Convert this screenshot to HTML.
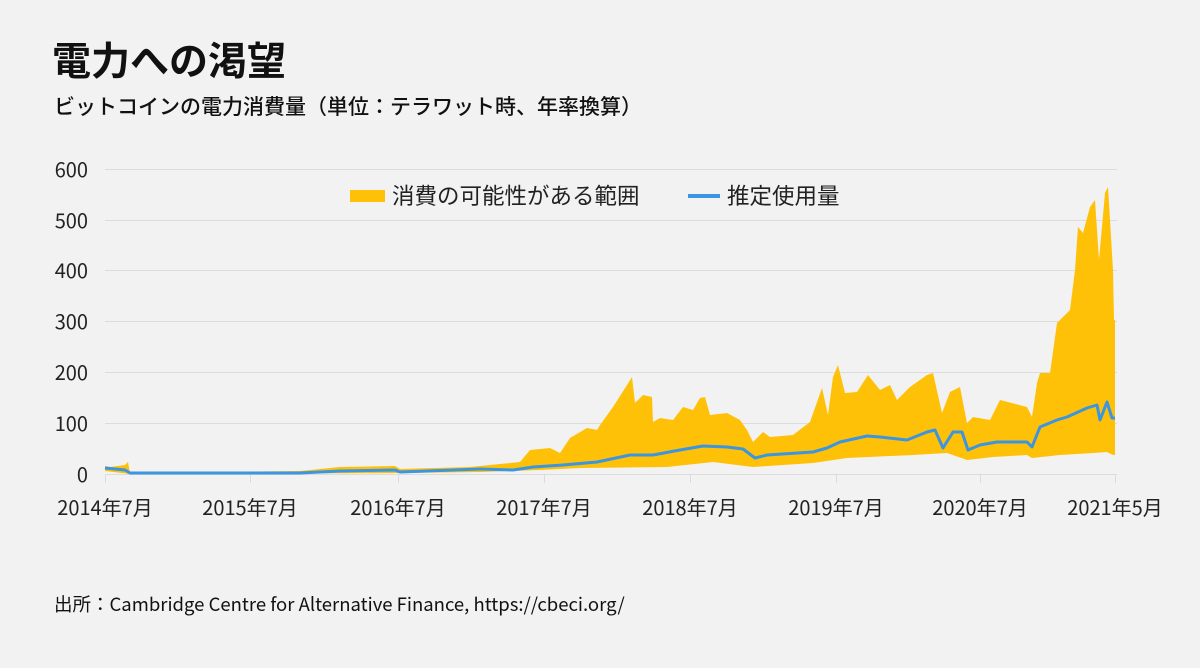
<!DOCTYPE html>
<html><head><meta charset="utf-8"><style>
body{margin:0;width:1200px;height:668px;background:#f2f2f2;font-family:"Noto Sans CJK JP","Liberation Sans",sans-serif;color:#111;overflow:hidden}
.t{position:absolute;left:52px;top:34px;font-size:39px;font-weight:bold;line-height:50px}
.s{position:absolute;left:54px;top:91px;font-size:21px;font-weight:500;line-height:30px}
.src{position:absolute;left:54px;top:591px;font-size:18.5px;line-height:26px}
svg{position:absolute;left:0;top:0}
</style></head><body>
<div class="t">電力への渇望</div>
<div class="s">ビットコインの電力消費量（単位：テラワット時、年率換算）</div>
<div class="src">出所：Cambridge Centre for Alternative Finance, https://cbeci.org/</div>
<svg width="1200" height="668" font-family="Noto Sans CJK JP, Liberation Sans, sans-serif" font-size="20" fill="#222">
<g stroke="#dcdcdc" stroke-width="1">
<line x1="105" x2="1117" y1="169.5" y2="169.5"/><line x1="105" x2="1117" y1="220.5" y2="220.5"/>
<line x1="105" x2="1117" y1="270.5" y2="270.5"/><line x1="105" x2="1117" y1="321.5" y2="321.5"/>
<line x1="105" x2="1117" y1="372.5" y2="372.5"/><line x1="105" x2="1117" y1="423.5" y2="423.5"/>
<line x1="105" x2="1117" y1="474.5" y2="474.5"/>
<line x1="105.5" x2="105.5" y1="474" y2="483"/><line x1="250.5" x2="250.5" y1="474" y2="483"/>
<line x1="398.5" x2="398.5" y1="474" y2="483"/><line x1="544.5" x2="544.5" y1="474" y2="483"/>
<line x1="690.5" x2="690.5" y1="474" y2="483"/><line x1="836.5" x2="836.5" y1="474" y2="483"/>
<line x1="980.5" x2="980.5" y1="474" y2="483"/><line x1="1115.5" x2="1115.5" y1="474" y2="483"/>
</g>
<g text-anchor="end">
<text x="88" y="177">600</text><text x="88" y="228">500</text><text x="88" y="278">400</text>
<text x="88" y="329">300</text><text x="88" y="380">200</text><text x="88" y="431">100</text><text x="88" y="482">0</text>
</g>
<g text-anchor="middle">
<text x="105" y="515">2014年7月</text><text x="250" y="515">2015年7月</text><text x="398" y="515">2016年7月</text>
<text x="544" y="515">2017年7月</text><text x="690" y="515">2018年7月</text><text x="836" y="515">2019年7月</text>
<text x="980" y="515">2020年7月</text><text x="1115" y="515">2021年5月</text>
</g>
<polygon fill="#ffc107" points="105,466 110,467 125,465 128,462 130,473 300,471 340,467 395,466 400,469 470,467 500,464 520,462 530,450 550,448 560,453 570,438 587,428 597,430 600,425 613,407 627,385 632,377 635,403 643,395 652,397 653,422 660,418 673,420 683,407 693,410 700,398 705,397 710,415 727,413 740,420 747,430 753,442 763,432 770,437 793,435 810,422 822,388 828,415 833,377 838,365 845,393 857,392 868,375 880,390 890,385 897,400 910,387 927,375 933,373 942,413 950,392 960,387 967,423 973,417 990,420 1000,400 1027,407 1032,417 1037,383 1040,373 1050,373 1057,323 1070,310 1075,270 1078,227 1083,233 1090,207 1095,200 1099,260 1105,193 1108,187 1113,270 1114,320 1115,320 1115,455 1113,455 1107,452 1093,453 1060,455 1032,458 1027,455 993,457 967,460 947,453 913,455 847,458 813,463 753,467 713,462 667,467 580,468 540,470 480,472 400,473 130,474 105,471"/>
<polyline fill="none" stroke="#3b95e0" stroke-width="3" stroke-linejoin="round" points="105,468 125,470 130,473 300,473 340,471 395,470 400,472 480,469 513,470 533,467 563,465 597,462 630,455 653,455 680,450 703,446 727,447 743,449 755,458 767,455 813,452 827,448 840,442 867,436 880,437 907,440 927,432 935,430 943,448 953,432 962,432 968,450 980,445 997,442 1027,442 1032,447 1040,427 1057,420 1067,417 1087,408 1097,405 1100,420 1107,402 1112,418 1115,418"/>
<rect x="350" y="190" width="35" height="12" fill="#ffc107"/>
<text x="392" y="204" font-size="22.5">消費の可能性がある範囲</text>
<line x1="688" x2="720" y1="196" y2="196" stroke="#3b95e0" stroke-width="4"/>
<text x="727" y="204" font-size="22.5">推定使用量</text>
</svg>
</body></html>
